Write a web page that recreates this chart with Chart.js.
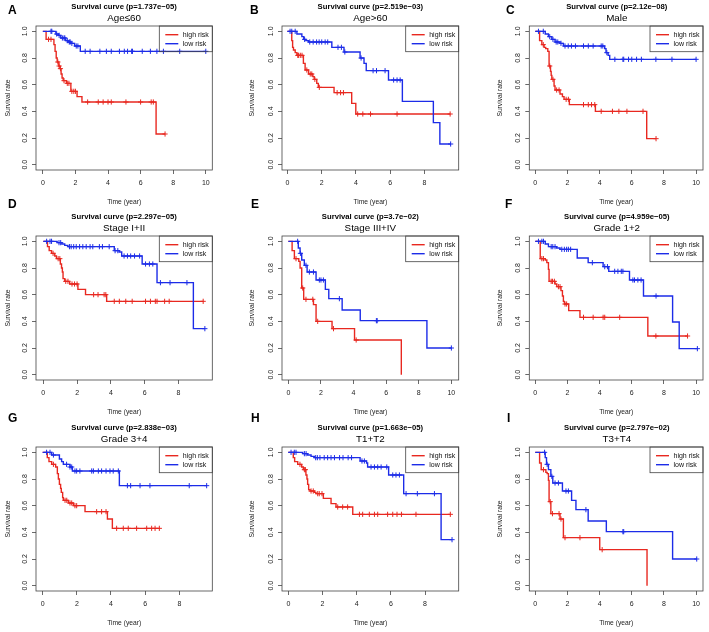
<!DOCTYPE html>
<html>
<head>
<meta charset="utf-8">
<script src="https://cdn.jsdelivr.net/npm/chart.js@4.4.1/dist/chart.umd.min.js"></script>
<style>
  body { margin:0; background:#fff; width:709px; height:632px; position:relative; overflow:hidden;
         font-family:"Liberation Sans", Arial, "DejaVu Sans", sans-serif; }
  canvas { position:absolute; }
  .tag { position:absolute; font-weight:bold; font-size:12px; line-height:12px; color:#000; }
  .ttl { position:absolute; text-align:center; color:#000; white-space:nowrap; }
  .t1 { font-weight:bold; font-size:7.7px; line-height:9px; }
  .t2 { font-size:9.8px; line-height:11px; }
</style>
</head>
<body>
<script>
// ---- data: [time, survival after the event] and censor times ----
const letters = ['A', 'B', 'C', 'D', 'E', 'F', 'G', 'H', 'I'];
const pValues = ['1.737e−05', '2.519e−03', '2.12e−08', '2.297e−05', '3.7e−02', '4.959e−05', '2.838e−03', '1.663e−05', '2.797e−02'];
const groups = ['Age≤60', 'Age>60', 'Male', 'Stage I+II', 'Stage III+IV', 'Grade 1+2', 'Grade 3+4', 'T1+T2', 'T3+T4'];
const yTicks = [0, 0.2, 0.4, 0.6, 0.8, 1.0];
const xTicks10 = [0, 2, 4, 6, 8, 10];
const xTicks8 = [0, 2, 4, 6, 8];

// A  Age<=60
const aHigh = [[0,1],[0.2,0.94],[0.68,0.9],[0.75,0.85],[0.82,0.8],[0.88,0.77],[0.98,0.74],[1.05,0.72],[1.12,0.68],[1.18,0.65],[1.25,0.63],[1.45,0.61],[1.72,0.55],[2.1,0.51],[2.4,0.47],[6.95,0.23],[7.5,0.23]];
const aHighC = [0.35,0.5,0.92,1.0,1.08,1.3,1.5,1.6,1.78,1.9,2.0,2.75,3.4,3.7,4.0,4.2,5.1,6.0,6.65,6.78,7.5];
const aLow = [[0,1],[0.8,0.98],[0.95,0.97],[1.1,0.95],[1.4,0.93],[1.55,0.92],[1.7,0.91],[1.95,0.89],[2.3,0.85],[10.0,0.85]];
const aLowC = [0.5,0.55,0.85,1.0,1.2,1.3,1.35,1.5,1.62,1.68,1.78,2.05,2.15,2.6,2.9,3.5,3.9,4.2,4.7,5.0,5.2,5.45,5.5,6.1,6.6,7.0,7.4,8.4,10.0];
// B  Age>60
const bHigh = [[0,1],[0.25,0.93],[0.3,0.88],[0.35,0.86],[0.45,0.84],[0.55,0.82],[0.93,0.76],[1.03,0.71],[1.23,0.68],[1.48,0.66],[1.56,0.64],[1.71,0.61],[1.8,0.58],[2.72,0.54],[3.75,0.46],[3.99,0.38],[9.5,0.38]];
const bHighC = [0.6,0.65,0.75,0.85,1.13,1.33,1.42,1.6,1.86,2.9,3.1,3.27,4.1,4.4,4.85,6.4,9.5];
const bLow = [[0,1],[0.55,0.98],[0.84,0.96],[0.95,0.94],[1.07,0.93],[1.23,0.92],[2.59,0.88],[3.3,0.845],[4.24,0.8],[4.47,0.76],[4.6,0.705],[5.9,0.635],[6.71,0.475],[8.52,0.315],[8.9,0.155],[9.53,0.155]];
const bLowC = [0.15,0.25,0.45,1.0,1.3,1.5,1.7,1.85,2.0,2.2,2.35,2.95,3.15,3.35,4.3,5.0,5.2,5.7,6.2,6.4,6.58,9.53];
// C  Male
const cHigh = [[0,1],[0.27,0.93],[0.41,0.9],[0.55,0.88],[0.65,0.87],[0.78,0.85],[0.86,0.74],[0.95,0.7],[0.99,0.67],[1.03,0.64],[1.17,0.59],[1.23,0.56],[1.54,0.53],[1.69,0.51],[1.79,0.49],[2.12,0.45],[3.74,0.4],[6.93,0.195],[7.51,0.195]];
const cHighC = [0.5,0.9,1.1,1.33,1.48,1.92,2.06,3.0,3.3,3.5,3.7,4.1,4.8,5.2,5.7,6.7,7.51];
const cLow = [[0,1],[0.62,0.98],[0.82,0.96],[1.03,0.94],[1.23,0.92],[1.54,0.91],[1.75,0.89],[4.32,0.87],[4.4,0.84],[4.53,0.82],[4.63,0.79],[10.0,0.79]];
const cLowC = [0.2,0.5,0.9,1.1,1.3,1.4,1.6,1.85,2.05,2.25,2.5,3.0,3.3,3.6,4.1,4.2,4.45,4.95,5.45,5.5,5.8,6.0,6.3,6.6,7.5,8.5,10.0];
// D  Stage I+II
const dHigh = [[0,1],[0.25,0.96],[0.35,0.93],[0.49,0.91],[0.68,0.89],[0.78,0.87],[1.01,0.83],[1.08,0.8],[1.13,0.77],[1.17,0.72],[1.27,0.7],[1.56,0.68],[2.05,0.64],[2.5,0.6],[3.75,0.55],[9.46,0.55]];
const dHighC = [0.58,0.88,0.98,1.33,1.46,1.7,1.85,2.0,2.98,3.24,3.6,3.7,4.2,4.5,4.88,5.26,6.05,6.34,6.63,6.73,7.18,7.45,9.46];
const dLow = [[0,1],[0.82,0.99],[1.1,0.98],[1.27,0.97],[1.46,0.96],[4.2,0.93],[4.49,0.92],[4.64,0.89],[5.85,0.83],[6.73,0.69],[8.88,0.345],[9.56,0.345]];
const dLowC = [0.2,0.4,0.49,0.93,1.03,1.55,1.65,1.8,1.95,2.15,2.34,2.54,2.77,2.93,3.32,3.5,3.9,4.25,4.41,4.78,4.98,5.17,5.4,5.7,6.05,6.28,6.48,6.93,7.5,8.5,9.56];
// E  Stage III+IV
const eHigh = [[0,1],[0.23,0.93],[0.37,0.87],[0.64,0.85],[0.72,0.8],[0.82,0.65],[0.94,0.565],[1.54,0.525],[1.7,0.4],[2.68,0.345],[4.06,0.26],[6.93,0]];
const eHighC = [0.47,0.88,1.08,1.5,1.8,2.77,4.16];
const eLow = [[0,1],[0.61,0.95],[0.72,0.91],[0.82,0.86],[0.98,0.82],[1.15,0.77],[1.7,0.71],[2.27,0.64],[2.48,0.57],[3.3,0.485],[4.41,0.405],[8.5,0.2],[10.0,0.2]];
const eLowC = [0.57,0.74,1.08,1.29,1.54,1.9,2.0,2.15,3.13,5.4,5.45,10.0];
// F  Grade 1+2
const fHigh = [[0,1],[0.31,0.87],[0.62,0.86],[0.72,0.84],[0.82,0.79],[0.86,0.7],[1.23,0.68],[1.34,0.66],[1.6,0.63],[1.69,0.59],[1.75,0.55],[1.81,0.53],[2.08,0.48],[2.78,0.43],[7.0,0.29],[9.47,0.29]];
const fHighC = [0.41,0.51,0.99,1.07,1.19,1.44,1.54,1.85,1.95,3.0,3.6,4.22,4.32,5.25,7.5,9.47];
const fLow = [[0,1],[0.62,0.98],[0.82,0.96],[1.33,0.95],[1.54,0.94],[2.61,0.875],[3.29,0.84],[4.22,0.81],[4.57,0.775],[5.86,0.71],[6.73,0.59],[8.54,0.395],[8.95,0.195],[10.08,0.195]];
const fLowC = [0.2,0.41,0.51,0.99,1.09,1.23,1.65,1.81,1.95,2.06,2.2,3.55,4.32,4.49,4.94,5.14,5.35,5.45,6.07,6.17,6.38,6.58,7.51,10.08];
// G  Grade 3+4
const gHigh = [[0,1],[0.27,0.96],[0.37,0.93],[0.53,0.91],[0.76,0.89],[0.86,0.84],[0.92,0.8],[0.98,0.76],[1.05,0.73],[1.09,0.7],[1.17,0.66],[1.21,0.64],[1.5,0.62],[1.8,0.6],[2.48,0.555],[3.79,0.5],[4.08,0.43],[6.83,0.43]];
const gHighC = [0.63,1.31,1.41,1.6,1.7,1.89,1.99,3.16,3.45,3.71,4.33,4.72,5.01,5.5,6.09,6.38,6.58,6.83];
const gLow = [[0,1],[0.53,0.98],[0.98,0.95],[1.11,0.93],[1.21,0.91],[1.6,0.89],[1.74,0.86],[4.49,0.75],[9.6,0.75]];
const gLowC = [0.23,0.43,0.63,1.4,1.6,1.7,1.89,1.99,2.18,2.87,2.97,3.26,3.45,3.71,3.94,4.13,4.43,4.96,5.15,5.7,6.28,8.58,9.6];
// H  T1+T2
const hHigh = [[0,1],[0.29,0.96],[0.37,0.93],[0.55,0.91],[0.78,0.89],[0.88,0.87],[1.03,0.83],[1.09,0.8],[1.13,0.76],[1.19,0.72],[1.27,0.71],[1.52,0.7],[1.62,0.69],[2.05,0.655],[2.5,0.615],[2.79,0.59],[3.77,0.535],[9.48,0.535]];
const hHighC = [0.68,0.94,1.0,1.33,1.46,1.72,1.81,1.97,2.89,3.18,3.47,4.16,4.35,4.74,5.04,5.23,5.81,6.11,6.36,6.62,7.47,9.48];
const hLow = [[0,1],[0.84,0.99],[1.13,0.98],[1.33,0.97],[1.52,0.96],[4.2,0.935],[4.58,0.92],[4.64,0.89],[5.87,0.83],[6.75,0.69],[8.94,0.345],[9.58,0.345]];
const hLowC = [0.16,0.35,0.45,0.94,1.04,1.6,1.7,1.85,2.1,2.3,2.5,2.7,3.0,3.2,3.5,3.7,4.31,4.45,4.84,5.04,5.23,5.43,5.76,6.11,6.3,6.5,6.89,7.55,8.55,9.58];
// I  T3+T4
const iHigh = [[0,1],[0.27,0.92],[0.37,0.87],[0.66,0.85],[0.74,0.84],[0.82,0.79],[0.86,0.63],[0.97,0.54],[1.54,0.5],[1.75,0.36],[4.01,0.27],[6.95,0]];
const iHighC = [0.51,0.93,1.07,1.48,1.6,1.85,2.78,4.16];
const iLow = [[0,1],[0.62,0.96],[0.7,0.91],[0.82,0.87],[0.97,0.82],[1.09,0.77],[1.69,0.71],[2.26,0.64],[2.53,0.57],[3.29,0.485],[4.42,0.405],[8.54,0.2],[10.04,0.2]];
const iLowC = [0.58,0.74,1.03,1.23,1.44,1.91,2.06,3.15,5.45,5.5,10.04];

const highSteps = [aHigh, bHigh, cHigh, dHigh, eHigh, fHigh, gHigh, hHigh, iHigh];
const highCens = [aHighC, bHighC, cHighC, dHighC, eHighC, fHighC, gHighC, hHighC, iHighC];
const lowSteps = [aLow, bLow, cLow, dLow, eLow, fLow, gLow, hLow, iLow];
const lowCens = [aLowC, bLowC, cLowC, dLowC, eLowC, fLowC, gLowC, hLowC, iLowC];
const xTickSets = [xTicks10, xTicks8, xTicks10, xTicks8, xTicks10, xTicks10, xTicks8, xTicks8, xTicks10];

// ---- layout ----
const FONT = '"Liberation Sans", Arial, "DejaVu Sans", sans-serif';
const RED = 'rgb(232,40,32)';
const BLUE = 'rgb(28,44,232)';
const colX = [0, 236, 472];
const rowY = [0, 210, 421];
const boxLeft = [36, 46, 57.3];
const padRight = [23.7, 13.3, 3.7];
const yTitlePad = [4.3, 12, 24.3];
const xRange = [[-0.42, 10.4], [-0.32, 10.0], [-0.37, 10.43], [-0.43, 10.0], [-0.39, 10.45],
                [-0.37, 10.43], [-0.39, 9.93], [-0.37, 9.97], [-0.37, 10.43]];
const tagPos = [[8, 4], [250, 4], [506, 4], [8, 198], [251, 198], [505, 198], [8, 412], [251, 412], [507, 412]];

Chart.defaults.font.family = FONT;

function survAt(steps, t) {
  let s = steps[0][1];
  for (const [x, y] of steps) { if (x <= t) s = y; }
  return s;
}

// plot box + boxed legend in the top right corner
const frame = {
  id: 'frame',
  afterDraw(chart) {
    const { ctx, chartArea: a } = chart;
    ctx.save();
    ctx.strokeStyle = '#444';
    ctx.lineWidth = 0.8;
    ctx.strokeRect(a.left, a.top, a.right - a.left, a.bottom - a.top);
    const lx = a.right - 53, ly = a.top;
    ctx.strokeRect(lx, ly, 53, 25.7);
    ctx.font = '7px ' + FONT;
    ctx.textBaseline = 'middle';
    ctx.fillStyle = '#111';
    [['high risk', RED, 8.7], ['low risk', BLUE, 17.7]].forEach(([txt, col, dy]) => {
      ctx.strokeStyle = col;
      ctx.lineWidth = 1.4;
      ctx.beginPath();
      ctx.moveTo(lx + 6, ly + dy);
      ctx.lineTo(lx + 19, ly + dy);
      ctx.stroke();
      ctx.fillText(txt, lx + 23.5, ly + dy);
    });
    ctx.restore();
  }
};

letters.forEach((letter, i) => {
  const col = i % 3, row = Math.floor(i / 3);
  const left = colX[col], top = rowY[row];

  const tag = document.createElement('div');
  tag.className = 'tag';
  tag.textContent = letter;
  tag.style.left = tagPos[i][0] + 'px';
  tag.style.top = tagPos[i][1] + 'px';

  const cv = document.createElement('canvas');
  cv.width = 236; cv.height = 210;
  cv.style.left = left + 'px'; cv.style.top = top + 'px';
  document.body.appendChild(cv);

  const boxW = 236 - boxLeft[col] - padRight[col];
  [['t1', 'Survival curve (p=' + pValues[i] + ')', 6, 9], ['t2', groups[i], 17.5, 11]].forEach(([cls, txt, cy, lh]) => {
    const d = document.createElement('div');
    d.className = 'ttl ' + cls;
    d.textContent = txt;
    d.style.left = (left + boxLeft[col]) + 'px';
    d.style.width = boxW + 'px';
    d.style.top = (top + cy - lh / 2) + 'px';
    document.body.appendChild(d);
  });
  document.body.appendChild(tag);

  const curve = (steps, color) => ({
    data: steps.map(([x, y]) => ({ x, y })),
    showLine: true, stepped: true, pointRadius: 0,
    borderColor: color, borderWidth: 1.4, fill: false
  });
  const marks = (steps, cens, color) => ({
    data: cens.map(t => ({ x: t, y: survAt(steps, t) })),
    showLine: false, pointStyle: 'cross', pointRadius: 2.6,
    borderColor: color, pointBorderWidth: 1, backgroundColor: color
  });

  const tickFont = { size: 7, family: FONT };
  const grid = { drawOnChartArea: false, drawTicks: true, tickLength: 4, color: '#444', lineWidth: 0.8 };

  new Chart(cv, {
    type: 'scatter',
    data: {
      datasets: [
        curve(lowSteps[i], BLUE), marks(lowSteps[i], lowCens[i], BLUE),
        curve(highSteps[i], RED), marks(highSteps[i], highCens[i], RED)
      ]
    },
    options: {
      responsive: false,
      animation: false,
      events: [],
      layout: { padding: { top: 26, right: padRight[col], left: 0, bottom: 0 } },
      plugins: { legend: { display: false }, tooltip: { enabled: false } },
      scales: {
        x: {
          type: 'linear', min: xRange[i][0], max: xRange[i][1],
          afterBuildTicks: s => { s.ticks = xTickSets[i].map(v => ({ value: v })); },
          afterFit: s => { s.height = 40; },
          ticks: { autoSkip: false, minRotation: 0, maxRotation: 0, padding: 4.5, font: tickFont, color: '#222',
                   callback: v => String(v) },
          grid: grid, border: { display: false },
          title: { display: true, text: 'Time (year)', color: '#222', font: { size: 6.7, family: FONT },
                   padding: { top: 0, bottom: 4.3 } }
        },
        y: {
          type: 'linear', min: -0.04, max: 1.04,
          afterBuildTicks: s => { s.ticks = yTicks.map(v => ({ value: v })); },
          afterFit: s => { s.width = boxLeft[col]; },
          ticks: { autoSkip: false, minRotation: 90, maxRotation: 90, crossAlign: 'center', padding: 2,
                   font: tickFont, color: '#222', callback: v => v.toFixed(1) },
          grid: grid, border: { display: false },
          title: { display: true, text: 'Survival rate', color: '#222', font: { size: 6.7, family: FONT },
                   padding: { top: yTitlePad[col], bottom: 0 } }
        }
      }
    },
    plugins: [frame]
  });
});
</script>
</body>
</html>
